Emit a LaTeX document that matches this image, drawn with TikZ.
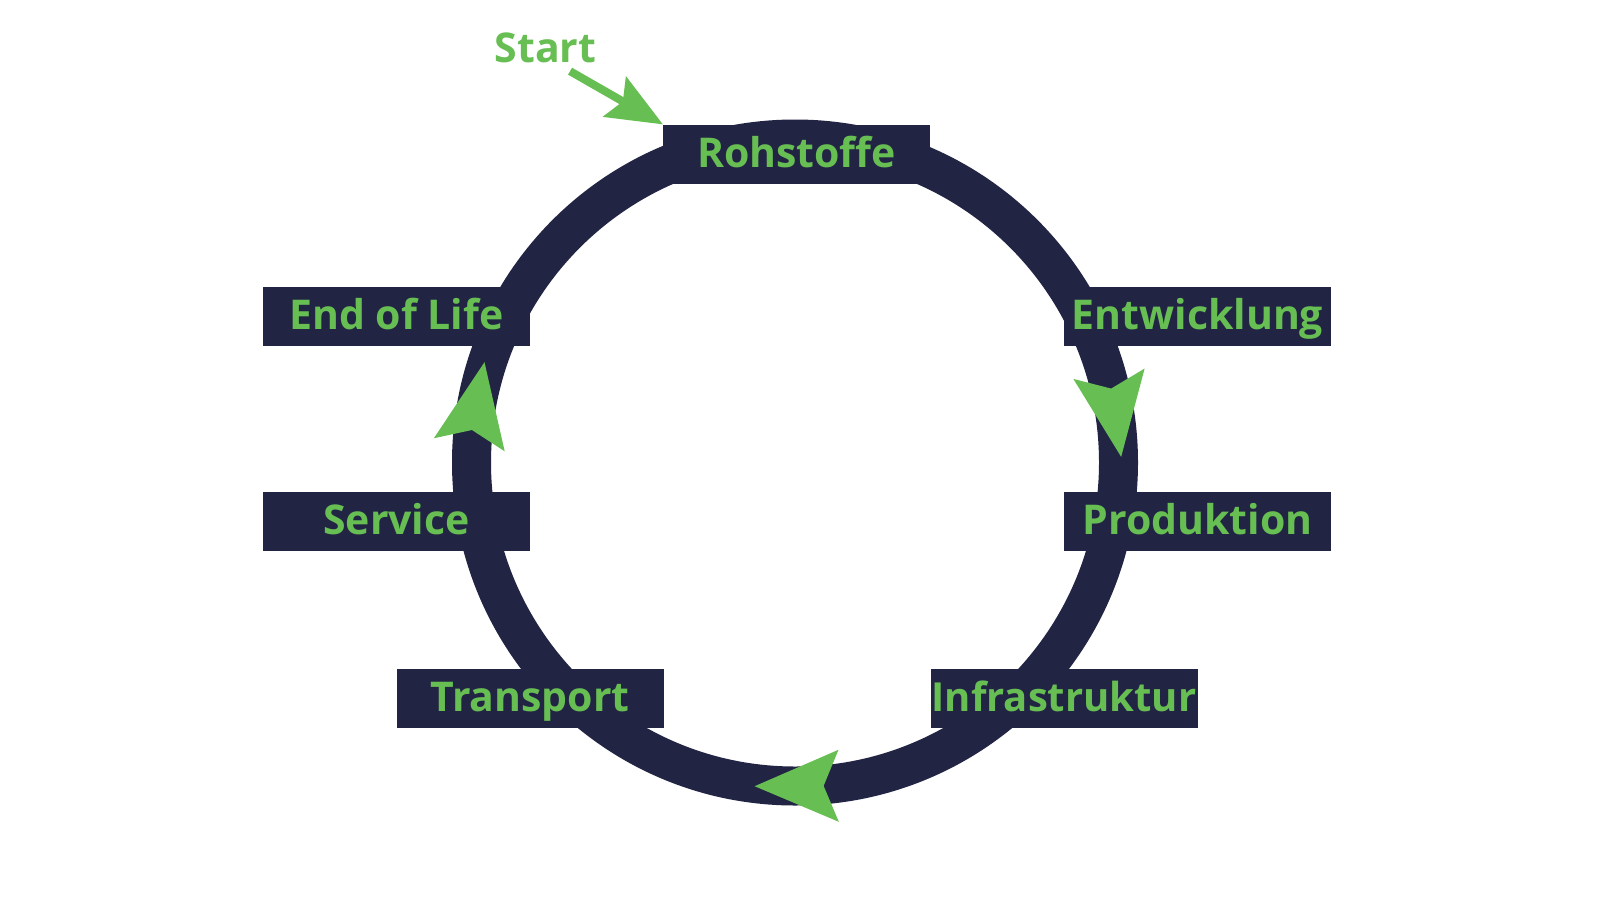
\documentclass[tikz,border=0pt]{standalone}
\usepackage{fontspec}
\setmainfont{Open Sans}[Ligatures=NoCommon]
\usepackage{xcolor}
\usetikzlibrary{arrows.meta, decorations.markings}
\definecolor{navy}{RGB}{34,36,68}
\definecolor{leafgreen}{RGB}{103,190,82}
\tikzset{ringtip/.tip={Stealth[length=84pt, width=72pt, inset=15pt, line width=0pt, color=leafgreen]}}

\begin{document}
\begin{tikzpicture}[x=1pt, y=-1pt, box/.style={fill=navy, text=leafgreen, minimum width=267pt, minimum height=59pt, inner sep=0pt, font=\fontsize{41}{50}\selectfont\bfseries, text height=30pt, text depth=4pt}, ring/.style={draw=navy, line width=39pt}, starttext/.style={text=leafgreen, inner sep=0pt, font=\fontsize{41}{50}\selectfont\bfseries}]

    \fill[white] (0,0) rectangle (1600,900);
    \useasboundingbox (0,0) rectangle (1600,900);

    %Ring
    \coordinate (centre) at (795,462.5);
    \draw[ring, postaction={decorate, decoration={markings, mark=at position 0.2267 with {\pgftransformxshift{42pt}\arrow{ringtip}}, mark=at position 0.4992 with {\pgftransformxshift{42pt}\arrow{ringtip}}, mark=at position 0.7792 with {\pgftransformxshift{42pt}\arrow{ringtip}}}}] (centre) ++(270:323.5) arc[start angle=270, end angle=630, radius=323.5];

    %Nodes
    \node[box](rohstoffe) at (796.5,154){Rohstoffe};
    \node[box](entwicklung) at (1197.5,316.5){Entwicklung};
    \node[box](produktion) at (1197.5,521.5){Produktion};
    \node[box, font=\fontsize{40}{50}\selectfont\bfseries](infrastruktur) at (1064,698){Infrastruktur};
    \node[box](transport) at (530,698){Transport};
    \node[box](service) at (396.5,521.5){Service};
    \node[box](endoflife) at (396.5,316.5){End of Life};
    \node[starttext](start) at (545.5,48){Start};

    %Lines
    \draw[leafgreen, line width=8pt, -{Stealth[length=56pt, width=47pt, inset=10pt, line width=0pt]}, shorten <=16pt] (start.-55) -- (rohstoffe.north west);

\end{tikzpicture}
\end{document}
